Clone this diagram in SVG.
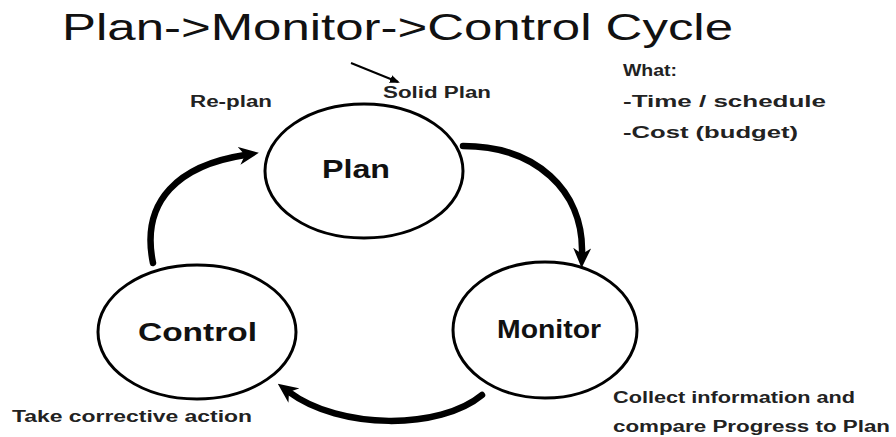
<svg xmlns="http://www.w3.org/2000/svg" width="896" height="437" viewBox="0 0 896 437">
<defs>
<style>
.node{fill:#fff;stroke:#000;stroke-width:3}
.lbl{font-family:"Liberation Sans",Arial,sans-serif;font-weight:bold;font-size:25px;fill:#111}
.note{font-family:"Liberation Sans",Arial,sans-serif;font-weight:bold;font-size:16px;fill:#222}
.title{font-family:"Liberation Sans",Arial,sans-serif;font-size:36px;fill:#111}
.arc{fill:none;stroke:#000;stroke-width:6.5;stroke-linecap:round;marker-end:url(#head)}
</style>
<marker id="head" viewBox="0 0 20 18" refX="6" refY="9" markerWidth="20" markerHeight="18" markerUnits="userSpaceOnUse" orient="auto">
<path d="M0,0 L20,9 L0,18 L6,9 z" fill="#000"/>
</marker>
<marker id="small" viewBox="0 0 10 8" refX="8" refY="4" markerWidth="10" markerHeight="8" markerUnits="userSpaceOnUse" orient="auto">
<path d="M0,0 L10,4 L0,8 z" fill="#000"/>
</marker>
</defs>
<rect width="896" height="437" fill="#fff"/>
<text class="title" x="62" y="40" textLength="671" lengthAdjust="spacingAndGlyphs">Plan-&gt;Monitor-&gt;Control Cycle</text>

<g id="connectors">
<path class="arc" d="M463,146 C535,146 584,190 582,254"/>
<path class="arc" d="M482,395 C440,430 340,430 289,392"/>
<path class="arc" d="M153,263 C140,200 180,165 245,155"/>
<line x1="351" y1="63" x2="398" y2="82" stroke="#000" stroke-width="2" marker-end="url(#small)"/>
</g>

<g id="plan">
<ellipse class="node" cx="364" cy="171" rx="99" ry="67"/>
<text class="lbl" x="322" y="178" textLength="68" lengthAdjust="spacingAndGlyphs">Plan</text>
</g>
<g id="monitor">
<ellipse class="node" cx="545" cy="330" rx="92" ry="68"/>
<text class="lbl" x="497" y="338" textLength="104" lengthAdjust="spacingAndGlyphs">Monitor</text>
</g>
<g id="control">
<ellipse class="node" cx="197" cy="332" rx="99" ry="67"/>
<text class="lbl" x="138" y="341" textLength="119" lengthAdjust="spacingAndGlyphs">Control</text>
</g>

<g id="notes">
<text class="note" x="190" y="107" textLength="82" lengthAdjust="spacingAndGlyphs">Re-plan</text>
<text class="note" x="383" y="98" textLength="108" lengthAdjust="spacingAndGlyphs">Solid Plan</text>
<text class="note" x="623" y="76" textLength="54" lengthAdjust="spacingAndGlyphs">What:</text>
<text class="note" x="623" y="107" textLength="203" lengthAdjust="spacingAndGlyphs">-Time / schedule</text>
<text class="note" x="623" y="138" textLength="175" lengthAdjust="spacingAndGlyphs">-Cost (budget)</text>
<text class="note" x="613" y="403" textLength="242" lengthAdjust="spacingAndGlyphs">Collect information and</text>
<text class="note" x="613" y="432" textLength="277" lengthAdjust="spacingAndGlyphs">compare Progress to Plan</text>
<text class="note" x="12" y="422" textLength="240" lengthAdjust="spacingAndGlyphs">Take corrective action</text>
</g>
</svg>
